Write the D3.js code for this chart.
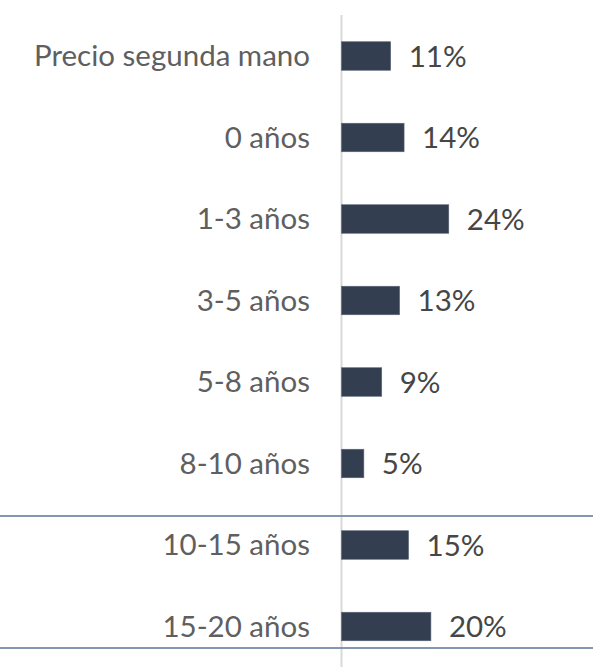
<!DOCTYPE html>
<html>
<head>
<meta charset="utf-8">
<script src="https://cdn.jsdelivr.net/npm/d3@7"></script>
<style>
  html, body { margin: 0; padding: 0; background: #ffffff; }
  svg { display: block; }
</style>
</head>
<body>
<svg id="chart" width="593" height="667"></svg>
<script>
// data
const categories = ["Precio segunda mano", "0 años", "1-3 años", "3-5 años", "5-8 años", "8-10 años", "10-15 años", "15-20 años"];
const values = [11, 14, 24, 13, 9, 5, 15, 20];
// separator lines sit below these rows
const separatorsAfter = ["8-10 años", "15-20 años"];

const svg = d3.select("#chart");
const width = +svg.attr("width"),
      height = +svg.attr("height");

const x0 = 341.5;
const x = d3.scaleLinear()
    .domain([0, 100])
    .range([x0, x0 + 447]);

const y = d3.scaleBand()
    .domain(categories)
    .range([15.25, 667.25])
    .paddingInner(0.65)
    .paddingOuter(0.325);

const data = categories.map((c, i) => ({ cat: c, value: values[i] }));

// vertical axis line
svg.append("line")
    .attr("x1", x(0)).attr("x2", x(0))
    .attr("y1", 15).attr("y2", height)
    .attr("stroke", "#d9d9d9")
    .attr("stroke-width", 2);

// bars
svg.selectAll("rect.bar")
    .data(data)
    .join("rect")
    .attr("class", "bar")
    .attr("x", x(0))
    .attr("y", d => y(d.cat))
    .attr("width", d => x(d.value) - x(0))
    .attr("height", y.bandwidth())
    .attr("fill", "#333f50")
    .attr("stroke", "#5a6577")
    .attr("stroke-width", 0.6);

// category labels
svg.selectAll("text.cat")
    .data(data)
    .join("text")
    .attr("class", "cat")
    .attr("x", 310)
    .attr("y", d => y(d.cat) + y.bandwidth() / 2 + 10)
    .attr("text-anchor", "end")
    .style("font-family", "Lato, 'Open Sans', sans-serif")
    .style("font-size", "29.5px")
    .style("fill", "#5f5f5f")
    .text(d => d.cat);

// value labels
svg.selectAll("text.val")
    .data(data)
    .join("text")
    .attr("class", "val")
    .attr("x", d => x(d.value) + 18)
    .attr("y", d => y(d.cat) + y.bandwidth() / 2 + 10.5)
    .style("font-family", "Lato, 'Open Sans', sans-serif")
    .style("font-size", "29.5px")
    .style("fill", "#464646")
    .text(d => d.value + "%");

// horizontal separators
separatorsAfter.forEach(c => {
    const yy = y(c) + y.bandwidth() / 2 + (c === "15-20 años" ? 21.5 : 52.5);
    svg.append("line")
        .attr("x1", 0).attr("x2", width)
        .attr("y1", yy).attr("y2", yy)
        .attr("stroke", "#8497b0")
        .attr("stroke-width", 2);
});
</script>
</body>
</html>
